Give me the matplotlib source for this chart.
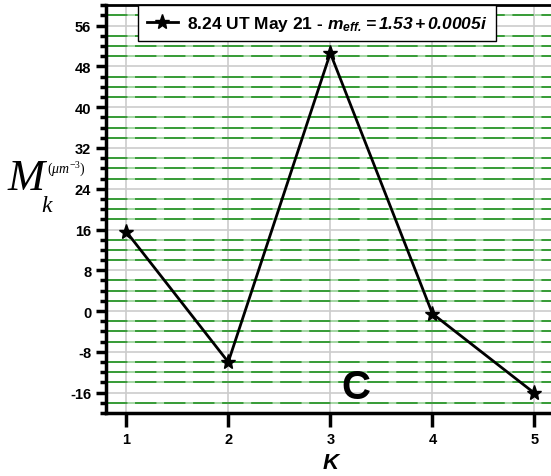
import numpy as np
import matplotlib
matplotlib.use("Agg")
import matplotlib.pyplot as plt
from matplotlib.ticker import MultipleLocator, FixedLocator

# values
k_vals = [1, 2, 3, 4, 5]
moments = [15.6, -10.0, 50.6, -0.5, -16.1]
series_label = r"8.24 UT May 21 - $\mathsf{m}_{\mathsf{eff.}}\mathsf{=1.53+0.0005i}$"

plt.rcParams['font.family'] = ['Liberation Sans', 'DejaVu Sans']
plt.rcParams['axes.unicode_minus'] = False
plt.rcParams['mathtext.fontset'] = 'custom'
plt.rcParams['mathtext.it'] = 'Liberation Serif:italic'
plt.rcParams['mathtext.rm'] = 'Liberation Serif'
plt.rcParams['mathtext.sf'] = 'Liberation Sans:bold:italic'

fig = plt.figure(figsize=(5.51, 4.77), dpi=100)
ax = fig.add_axes([0.192, 0.132, 0.815, 0.855])

ax.plot(k_vals, moments, color="black", lw=2, marker="*", ms=11,
        mfc="black", mec="black", label=series_label, zorder=5)

ax.set_xlim(0.8, 5.2)
ax.set_ylim(-20, 60)
ax.xaxis.set_major_locator(FixedLocator(k_vals))
ax.yaxis.set_major_locator(MultipleLocator(8))
ax.yaxis.set_minor_locator(MultipleLocator(2))

# grids: gray at majors, green dashed at minors
ax.grid(which="major", color="#cccccc", lw=1.2, zorder=0)
for yv in ax.yaxis.get_minorticklocs():
    ax.axhline(yv, color="#8ccc8c", lw=1.1, zorder=0.5)
    ax.axhline(yv, color="#1a8c1a", lw=1.1, linestyle=(0, (14, 5)), zorder=0.6)
ax.set_axisbelow(True)

for side in ["left", "bottom"]:
    ax.spines[side].set_linewidth(2.5)
ax.spines["top"].set_linewidth(2)
ax.spines["right"].set_visible(False)

ax.tick_params(which="major", direction="out", length=7, width=2.5,
               labelsize=10.5)
ax.tick_params(which="minor", direction="out", length=4, width=2.5)
ax.tick_params(axis="x", length=10, pad=4)
for lab in ax.get_xticklabels() + ax.get_yticklabels():
    lab.set_fontweight("bold")

ax.set_xlabel("K", fontsize=16, fontweight="bold", style="italic", labelpad=4)

# y label built from pieces: M, subscript k, superscript unit
fig.text(8 / 551, 1 - 190 / 477, "M", fontsize=32, style="italic",
         family="Liberation Serif", ha="left", va="baseline")
fig.text(41 / 551, 1 - 212 / 477, "k", fontsize=17, style="italic",
         family="Liberation Serif", ha="left", va="baseline")
fig.text(47 / 551, 1 - 174 / 477, r"$(\mu m^{-3})$", fontsize=10,
         ha="left", va="baseline")

ax.text(3.25, -14.9, "C", fontsize=29, fontweight="bold",
        ha="center", va="center")

leg = ax.legend(loc="upper left", bbox_to_anchor=(138 / 551, 1 - 6 / 477),
                bbox_transform=fig.transFigure, borderaxespad=0,
                fancybox=False, shadow=False, framealpha=1, borderpad=0.5,
                handlelength=1.8, handletextpad=0.5,
                prop={"weight": "bold", "size": 12.5})
leg.get_frame().set_edgecolor("black")
leg.get_frame().set_linewidth(1)

plt.savefig("out.png", dpi=100)
